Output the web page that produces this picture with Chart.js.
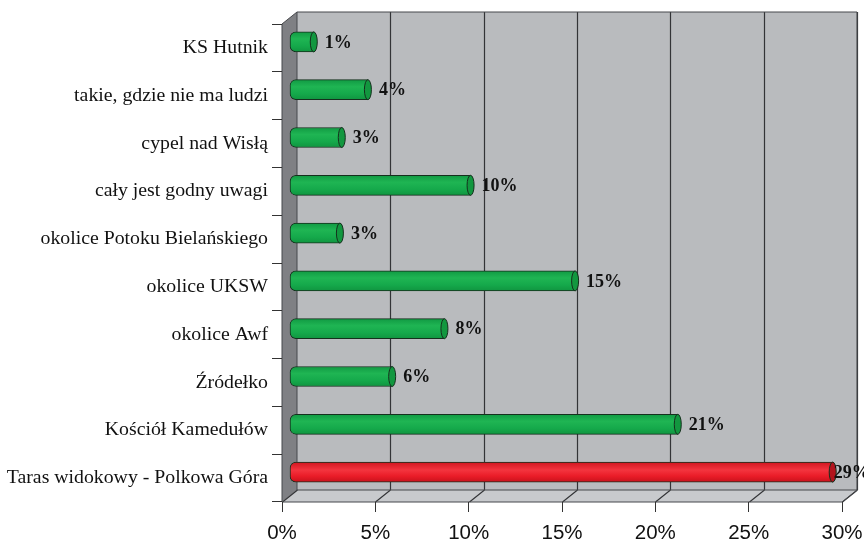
<!DOCTYPE html>
<html>
<head>
<meta charset="utf-8">
<script src="https://cdn.jsdelivr.net/npm/chart.js@4.4.1/dist/chart.umd.min.js"></script>
<style>
html, body { margin: 0; padding: 0; background: #fff; }
#wrap { width: 864px; height: 539px; position: relative; }
</style>
</head>
<body>
<div id="wrap"><canvas id="chart"></canvas></div>
<script>
const categories = [
    'KS Hutnik',
    'takie, gdzie nie ma ludzi',
    'cypel nad Wisłą',
    'cały jest godny uwagi',
    'okolice Potoku Bielańskiego',
    'okolice UKSW',
    'okolice Awf',
    'Źródełko',
    'Kościół Kamedułów',
    'Taras widokowy - Polkowa Góra',
];
const shares = [1.3, 4.2, 2.8, 9.7, 2.7, 15.3, 8.3, 5.5, 20.8, 29.1];
const xTicks = [0, 5, 10, 15, 20, 25, 30];
const highlightIndex = 9;

// depth of the 3d box (back wall offset from the front plane)
const DX = 15, DY = -12;

function cylinderFill(context) {
    const red = context.dataIndex === highlightIndex;
    const flat = red ? '#ec1c2b' : '#14a84a';
    const chart = context.chart;
    const y = chart.scales && chart.scales.y;
    if (!y || context.type !== 'data') return flat;
    const yc = y.getPixelForValue(context.dataIndex);
    if (!isFinite(yc)) return flat;
    const g = chart.ctx.createLinearGradient(0, yc - 10, 0, yc + 10);
    if (red) {
        g.addColorStop(0, '#d0161f');
        g.addColorStop(0.4, '#f3343e');
        g.addColorStop(0.7, '#ea1c28');
        g.addColorStop(1, '#c8121c');
    } else {
        g.addColorStop(0, '#119a43');
        g.addColorStop(0.35, '#1fb553');
        g.addColorStop(0.7, '#15a94b');
        g.addColorStop(1, '#109540');
    }
    return g;
}

const box3d = {
    id: 'box3d',
    beforeDraw(chart) {
        const { ctx, chartArea: a, scales: { x } } = chart;
        ctx.save();
        // back wall
        ctx.fillStyle = '#b9bbbe';
        ctx.fillRect(a.left + DX, a.top + DY, a.width, a.height);
        // floor
        ctx.fillStyle = '#c8cacd';
        ctx.beginPath();
        ctx.moveTo(a.left, a.bottom);
        ctx.lineTo(a.left + DX, a.bottom + DY);
        ctx.lineTo(a.right + DX, a.bottom + DY);
        ctx.lineTo(a.right, a.bottom);
        ctx.closePath();
        ctx.fill();
        // left wall
        ctx.fillStyle = '#7f8084';
        ctx.beginPath();
        ctx.moveTo(a.left, a.top);
        ctx.lineTo(a.left + DX, a.top + DY);
        ctx.lineTo(a.left + DX, a.bottom + DY);
        ctx.lineTo(a.left, a.bottom);
        ctx.closePath();
        ctx.fill();

        ctx.strokeStyle = '#333437';
        ctx.lineWidth = 1.2;
        xTicks.forEach((v) => {
            const px = Math.round(x.getPixelForValue(v)) + 0.5;
            ctx.beginPath();
            if (v > 0) {
                ctx.moveTo(px + DX, a.top + DY);
                ctx.lineTo(px + DX, a.bottom + DY);
            }
            ctx.moveTo(px, a.bottom);
            ctx.lineTo(px + DX, a.bottom + DY);
            ctx.stroke();
        });

        // outlines
        ctx.strokeStyle = '#47484c';
        ctx.lineWidth = 1;
        ctx.beginPath();
        ctx.moveTo(a.left, a.bottom);
        ctx.lineTo(a.left, a.top);
        ctx.lineTo(a.left + DX, a.top + DY);
        ctx.lineTo(a.right + DX, a.top + DY);
        ctx.lineTo(a.right + DX, a.bottom + DY);
        ctx.lineTo(a.right, a.bottom);
        ctx.lineTo(a.left, a.bottom);
        ctx.moveTo(a.left + DX, a.top + DY);
        ctx.lineTo(a.left + DX, a.bottom + DY);
        ctx.lineTo(a.right + DX, a.bottom + DY);
        ctx.stroke();
        ctx.restore();
    },
    // bars sit halfway into the box
    beforeDatasetsDraw(chart) {
        chart.ctx.save();
        chart.ctx.translate(DX / 2, DY / 2);
    },
    afterDatasetsDraw(chart) {
        const ctx = chart.ctx;
        chart.getDatasetMeta(0).data.forEach((bar, i) => {
            const red = i === highlightIndex;
            const h = bar.height / 2;
            ctx.beginPath();
            ctx.ellipse(bar.x, bar.y, 3.5, h, 0, 0, Math.PI * 2);
            ctx.fillStyle = red ? '#b3141d' : '#12973f';
            ctx.fill();
            ctx.strokeStyle = '#15301d';
            ctx.lineWidth = 1;
            ctx.stroke();

            ctx.fillStyle = '#111';
            ctx.font = 'bold 18px "Liberation Serif", "Times New Roman", serif';
            ctx.textAlign = 'left';
            ctx.textBaseline = 'middle';
            ctx.fillText(Math.round(shares[i]) + '%', bar.x + (red ? 1 : 11), bar.y + 1);
        });
        ctx.restore();
    },
};

new Chart(document.getElementById('chart'), {
    type: 'bar',
    data: {
        labels: categories,
        datasets: [{
            data: shares,
            backgroundColor: cylinderFill,
            borderColor: '#15301d',
            borderWidth: 1,
            borderSkipped: false,
            borderRadius: { topLeft: 6, bottomLeft: 6, topRight: 0, bottomRight: 0 },
            barThickness: 20,
            clip: false,
        }],
    },
    options: {
        indexAxis: 'y',
        responsive: true,
        maintainAspectRatio: false,
        animation: false,
        layout: { padding: { top: 24, right: 22, left: 0, bottom: 0 } },
        plugins: {
            legend: { display: false },
            tooltip: { enabled: false },
        },
        scales: {
            x: {
                min: 0,
                max: 30,
                ticks: {
                    stepSize: 5,
                    callback: (v) => v + '%',
                    color: '#111',
                    padding: 9,
                    font: { family: '"Liberation Sans", Arial, sans-serif', size: 20.5 },
                },
                grid: { drawOnChartArea: false, tickLength: 10, color: '#333' },
                border: { display: false },
                afterFit: (scale) => {
                    scale.height = 37;
                    scale.paddingLeft = 0;
                    scale.paddingRight = 0;
                },
            },
            y: {
                ticks: {
                    color: '#111',
                    padding: 4,
                    font: { family: '"Liberation Serif", "Times New Roman", serif', size: 19.8 },
                },
                grid: { drawOnChartArea: false, tickLength: 10, color: '#333', offset: true },
                border: { display: false },
                afterFit: (scale) => { scale.width = 282; },
            },
        },
    },
    plugins: [box3d],
});
</script>
</body>
</html>
